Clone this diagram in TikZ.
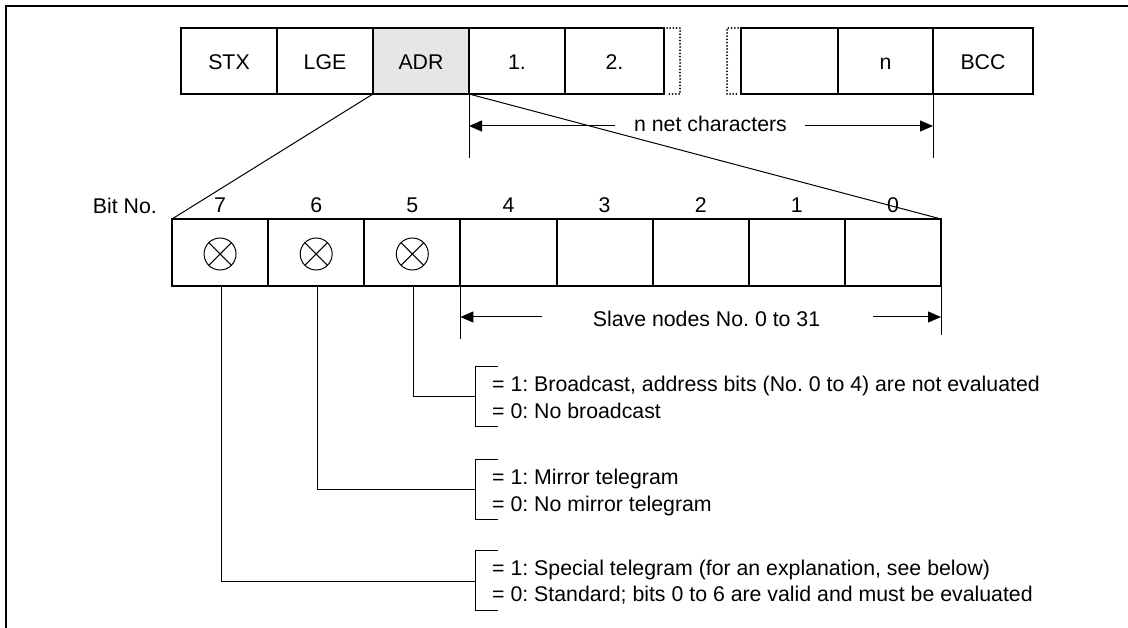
\documentclass[tikz,border=0pt]{standalone}
\usepackage{fontspec}
\setmainfont{Liberation Sans}
\usetikzlibrary{arrows.meta}
\definecolor{adrgray}{HTML}{E6E6E6}
\frenchspacing
\begin{document}
\begin{tikzpicture}[x=1pt,y=-1pt,
  font=\fontsize{21.3}{26}\selectfont,
  box/.style={draw, line width=2pt, minimum height=66pt, inner sep=0pt, outer sep=0pt,
              text height=17pt, text depth=0pt},
  bitbox/.style={draw, line width=2pt, minimum width=96.125pt, minimum height=67pt, inner sep=0pt, outer sep=0pt},
  bitnum/.style={anchor=base, inner sep=0pt},
  xcirc/.style={circle, draw, line width=1pt, minimum size=32pt, inner sep=0pt,
     path picture={\draw[line width=1pt] (path picture bounding box.north west) -- (path picture bounding box.south east)
                    (path picture bounding box.north east) -- (path picture bounding box.south west);}},
  conn/.style={line width=1pt},
  arr/.style={line width=1pt, -{Triangle[length=13pt,width=11pt]}},
  dotbr/.style={line width=2pt, line cap=round, dash pattern=on 0pt off 3.2pt},
  desc/.style={anchor=base west, inner sep=0pt},
]
\useasboundingbox (0,0) rectangle (1128,628);
% frame
\draw[line width=2pt] (6,628) -- (6,6) -- (1128,6);

% telegram row
\node[box, minimum width=96pt] (stx) at (229,61) {STX};
\node[box, minimum width=96pt] (lge) at (325,61) {LGE};
\node[box, minimum width=96pt, fill=adrgray] (adr) at (421,61) {ADR};
\node[box, minimum width=96pt] (c1) at (517,61) {1.};
\node[box, minimum width=99pt] (c2) at (614.5,61) {2.};
\node[box, minimum width=97pt] (cx) at (789.5,61) {};
\node[box, minimum width=95pt] (cn) at (885.5,61) {n};
\node[box, minimum width=100pt] (bcc) at (983,61) {BCC};
\draw[dotbr] ([xshift=3pt]c2.north east) -- ++(13,0) |- ([xshift=3pt]c2.south east);
\draw[dotbr] ([xshift=-3pt]cx.north west) -- ++(-11,0) |- ([xshift=-3pt]cx.south west);

% n net characters
\draw[conn] (c1.south west) -- ++(0,64);
\draw[conn] (bcc.south west) -- ++(0,64);
\node[anchor=base, inner sep=0pt] (nnet) at (710.5,132) {n net characters};
\coordinate (nl) at (615,126);
\coordinate (nr) at (805,126);
\draw[arr] (nl) -- (nl -| c1.south west);
\draw[arr] (nr) -- (nr -| bcc.south west);

% bit field
\node[anchor=base east, inner sep=0pt] (bitno) at (157,214) {Bit No.};
\foreach \p in {0,...,7} {
  \pgfmathtruncatemacro\bn{7-\p}
  \node[bitbox] (b\bn) at ({172+96.125*(\p+0.5)},252.5) {};
  \node[bitnum] (n\bn) at ({172+96.125*(\p+0.5)},213) {\bn};
}
\foreach \b in {7,6,5} {
  \node[xcirc] (x\b) at ([yshift=-1.5pt]b\b.center) {};
}

% zoom lines
\draw[conn] (adr.south west) -- (b7.north west);
\draw[conn] (c1.south west) -- (b0.north east);

% slave nodes
\draw[conn] (b4.south west) -- ++(0,53);
\draw[conn] (b0.south east) -- ++(0,49);
\node[anchor=base, inner sep=0pt] (slave) at (706.5,327) {Slave nodes No. 0 to 31};
\coordinate (sl) at (542,317);
\coordinate (sr) at (873,317);
\draw[arr] (sl) -- (sl -| b4.south west);
\draw[arr] (sr) -- (sr -| b0.south east);

% brackets
\coordinate (k5) at (475,397);
\coordinate (k6) at (475,489);
\coordinate (k7) at (475,581);
\foreach \b/\t in {5/367,6/459,7/550} {
  \draw[conn] ([xshift=1pt]b\b.south) |- (k\b);
  \draw[conn] (498,\t) -| (475,\t+60) -- (498,\t+60);
}
\node[desc] (t5a) at (492,391.5) {= 1: Broadcast, address bits (No. 0 to 4) are not evaluated};
\node[desc] (t5b) at (492,418) {= 0: No broadcast};
\node[desc] (t6a) at (492,484.5) {= 1: Mirror telegram};
\node[desc] (t6b) at (492,511) {= 0: No mirror telegram};
\node[desc] (t7a) at (492,575) {= 1: Special telegram (for an explanation, see below)};
\node[desc] (t7b) at (492,601) {= 0: Standard; bits 0 to 6 are valid and must be evaluated};
\end{tikzpicture}
\end{document}
